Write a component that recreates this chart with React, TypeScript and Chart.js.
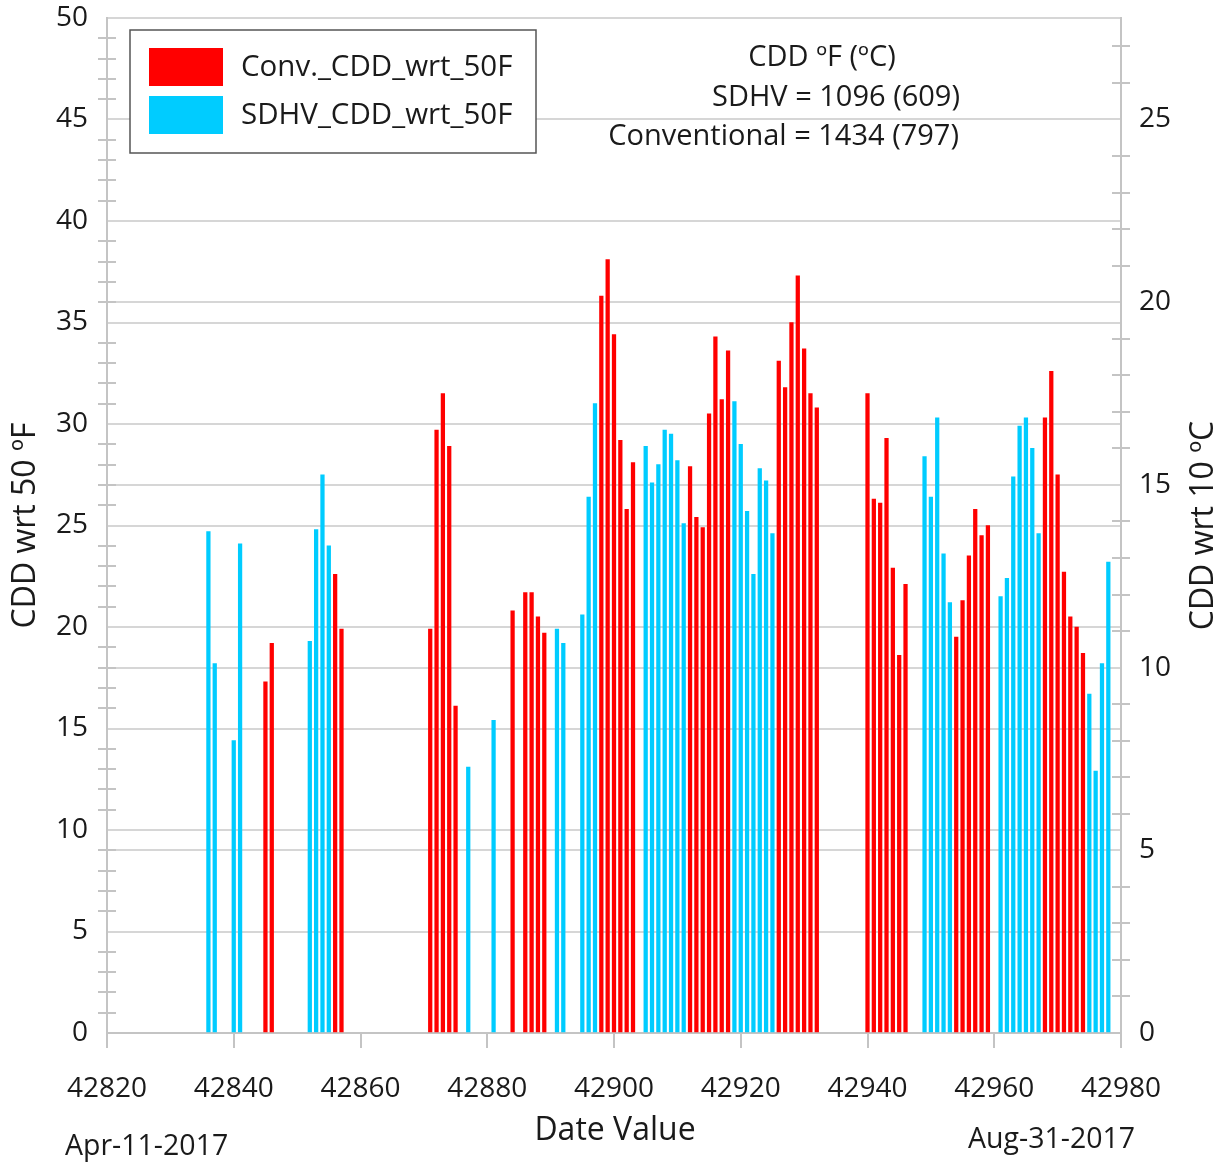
import React, { useEffect, useRef } from 'react';
import { Chart, registerables } from 'chart.js';

Chart.register(...registerables);

const convDates = [
  42845, 42846, 42856, 42857, 42871, 42872, 42873, 42874, 42875, 42884, 42886, 42887, 42888, 42889,
  42898, 42899, 42900, 42901, 42902, 42903, 42912, 42913, 42914, 42915, 42916, 42917, 42918,
  42926, 42927, 42928, 42929, 42930, 42931, 42932, 42940, 42941, 42942, 42943, 42944, 42945, 42946,
  42954, 42955, 42956, 42957, 42958, 42959, 42968, 42969, 42970, 42971, 42972, 42973, 42974,
];
const convValues = [
  17.3, 19.2, 22.6, 19.9, 19.9, 29.7, 31.5, 28.9, 16.1, 20.8, 21.7, 21.7, 20.5, 19.7,
  36.3, 38.1, 34.4, 29.2, 25.8, 28.1, 27.9, 25.4, 24.9, 30.5, 34.3, 31.2, 33.6,
  33.1, 31.8, 35.0, 37.3, 33.7, 31.5, 30.8, 31.5, 26.3, 26.1, 29.3, 22.9, 18.6, 22.1,
  19.5, 21.3, 23.5, 25.8, 24.5, 25.0, 30.3, 32.6, 27.5, 22.7, 20.5, 20.0, 18.7,
];
const sdhvDates = [
  42836, 42837, 42840, 42841, 42852, 42853, 42854, 42855, 42877, 42881, 42891, 42892, 42895, 42896, 42897,
  42905, 42906, 42907, 42908, 42909, 42910, 42911, 42919, 42920, 42921, 42922, 42923, 42924, 42925,
  42949, 42950, 42951, 42952, 42953, 42961, 42962, 42963, 42964, 42965, 42966, 42967,
  42975, 42976, 42977, 42978,
];
const sdhvValues = [
  24.7, 18.2, 14.4, 24.1, 19.3, 24.8, 27.5, 24.0, 13.1, 15.4, 19.9, 19.2, 20.6, 26.4, 31.0,
  28.9, 27.1, 28.0, 29.7, 29.5, 28.2, 25.1, 31.1, 29.0, 25.7, 22.6, 27.8, 27.2, 24.6,
  28.4, 26.4, 30.3, 23.6, 21.2, 21.5, 22.4, 27.4, 29.9, 30.3, 28.8, 24.6,
  16.7, 12.9, 18.2, 23.2,
];

const seriesLabels = ['Conv._CDD_wrt_50F', 'SDHV_CDD_wrt_50F'];
const seriesColors = ['#FF0000', '#00CCFF'];
const xRange = [42820, 42980];
const xStep = 20;
const yRangeF = [0, 50];
const yStep = 5;
const annotationLines = ['CDD ºF (ºC)', 'SDHV = 1096 (609)', 'Conventional = 1434 (797)'];
const xTitle = 'Date Value';
const yTitleLeft = 'CDD wrt 50 ºF';
const yTitleRight = 'CDD wrt 10 ºC';
const dateStart = 'Apr-11-2017';
const dateEnd = 'Aug-31-2017';

const FONT = '"Open Sans", "Noto Sans", sans-serif';
const TEXT = '#1a1a1a';
const GRID = '#d6d6d6';
const AXIS = '#c4c4c4';

const decor = {
  id: 'decor',
  afterDraw(chart: any) {
    const { ctx, chartArea: ca, scales } = chart;
    const yl = scales.y;
    const yr = scales.y2;
    ctx.save();
    // minor ticks
    ctx.strokeStyle = AXIS;
    ctx.lineWidth = 2;
    ctx.beginPath();
    for (let v = yRangeF[0] + 1; v < yRangeF[1]; v++) {
      if (v % yStep === 0) continue;
      const py = Math.round(yl.getPixelForValue(v));
      ctx.moveTo(ca.left - 9, py);
      ctx.lineTo(ca.left + 9, py);
    }
    for (let v = 1; v < yr.max; v++) {
      if (v % yStep === 0) continue;
      const py = Math.round(yr.getPixelForValue(v));
      ctx.moveTo(ca.right - 9, py);
      ctx.lineTo(ca.right + 9, py);
    }
    ctx.stroke();

    // legend
    const lx = ca.left + 23;
    const ly = ca.top + 12;
    const lw = 406;
    const lh = 123;
    ctx.fillStyle = '#ffffff';
    ctx.fillRect(lx, ly, lw, lh);
    ctx.strokeStyle = '#555555';
    ctx.lineWidth = 1.5;
    ctx.strokeRect(lx, ly, lw, lh);
    ctx.font = `29.5px ${FONT}`;
    ctx.textBaseline = 'middle';
    ctx.textAlign = 'left';
    chart.data.datasets.forEach((ds: any, i: number) => {
      const ry = ly + 18 + i * 48;
      ctx.fillStyle = ds.backgroundColor;
      ctx.fillRect(lx + 19, ry, 74, 38);
      ctx.fillStyle = TEXT;
      ctx.fillText(ds.label, lx + 111, ry + 20);
    });

    // annotation
    ctx.font = `29px ${FONT}`;
    ctx.fillStyle = TEXT;
    ctx.textAlign = 'center';
    ctx.fillText(annotationLines[0], ca.left + 715, ca.top + 40);
    ctx.textAlign = 'right';
    ctx.fillText(annotationLines[1], ca.left + 853, ca.top + 80);
    ctx.fillText(annotationLines[2], ca.left + 852, ca.top + 119);

    // titles
    ctx.font = `32px ${FONT}`;
    ctx.textAlign = 'center';
    const cy = (ca.top + ca.bottom) / 2;
    ctx.save();
    ctx.translate(26, cy);
    ctx.rotate(-Math.PI / 2);
    ctx.fillText(yTitleLeft, 0, 0);
    ctx.restore();
    ctx.save();
    ctx.translate(1204, cy);
    ctx.rotate(-Math.PI / 2);
    ctx.fillText(yTitleRight, 0, 0);
    ctx.restore();
    ctx.fillText(xTitle, (ca.left + ca.right) / 2 + 1, ca.bottom + 98);

    ctx.font = `28.5px ${FONT}`;
    ctx.textAlign = 'left';
    ctx.fillText(dateStart, 65, ca.bottom + 114);
    ctx.fillText(dateEnd, 968, ca.bottom + 107);
    ctx.restore();
  },
};

export default function App() {
  const ref = useRef<HTMLCanvasElement | null>(null);
  useEffect(() => {
    if (!ref.current) return;
    const tickFont = { family: FONT, size: 28 };
    const chart = new Chart(ref.current, {
      type: 'bar',
      data: {
        datasets: [
          {
            label: seriesLabels[0],
            data: convDates.map((d, i) => ({ x: d, y: convValues[i] })),
            backgroundColor: seriesColors[0],
            barThickness: 3.6,
            grouped: false,
            yAxisID: 'y',
          } as any,
          {
            label: seriesLabels[1],
            data: sdhvDates.map((d, i) => ({ x: d, y: sdhvValues[i] })),
            backgroundColor: seriesColors[1],
            barThickness: 3.6,
            grouped: false,
            yAxisID: 'y',
          } as any,
        ],
      },
      options: {
        animation: false,
        responsive: false,
        layout: { padding: { top: 18, left: 0, right: 0, bottom: 0 } },
        plugins: { legend: { display: false }, tooltip: { enabled: false } },
        scales: {
          x: {
            type: 'linear',
            min: xRange[0],
            max: xRange[1],
            offset: false,
            ticks: {
              stepSize: xStep,
              font: tickFont,
              color: TEXT,
              padding: 24,
              maxRotation: 0,
              autoSkip: false,
              callback: (v: any) => String(v),
            },
            grid: { drawOnChartArea: false, offset: false, tickLength: 15, color: AXIS, lineWidth: 2 },
            border: { color: AXIS, width: 2 },
            afterFit: (s: any) => {
              s.height = 129;
              s.paddingLeft = 0;
              s.paddingRight = 0;
            },
          },
          y: {
            position: 'left',
            min: yRangeF[0],
            max: yRangeF[1],
            ticks: { stepSize: yStep, font: tickFont, color: TEXT, padding: 19 },
            grid: { drawTicks: false, color: GRID, lineWidth: 2 },
            border: { color: AXIS, width: 2 },
            afterFit: (s: any) => {
              s.width = 107;
              s.paddingTop = 0;
              s.paddingBottom = 0;
            },
          },
          y2: {
            position: 'right',
            min: (yRangeF[0] * 5) / 9,
            max: (yRangeF[1] * 5) / 9,
            ticks: { stepSize: yStep, font: tickFont, color: TEXT, padding: 18 },
            grid: { drawTicks: false, color: GRID, lineWidth: 2 },
            border: { color: AXIS, width: 2 },
            afterBuildTicks: (s: any) => {
              s.ticks = s.ticks.filter((t: any) => Math.abs(t.value % yStep) < 1e-6);
            },
            afterFit: (s: any) => {
              s.width = 110;
              s.paddingTop = 0;
              s.paddingBottom = 0;
            },
          },
        },
      } as any,
      plugins: [decor],
    });
    return () => chart.destroy();
  }, []);
  return (
    <canvas
      ref={ref}
      width={1231}
      height={1162}
      style={{ position: 'fixed', left: 0, top: 0, width: 1231, height: 1162, display: 'block', background: '#fff' }}
    />
  );
}
